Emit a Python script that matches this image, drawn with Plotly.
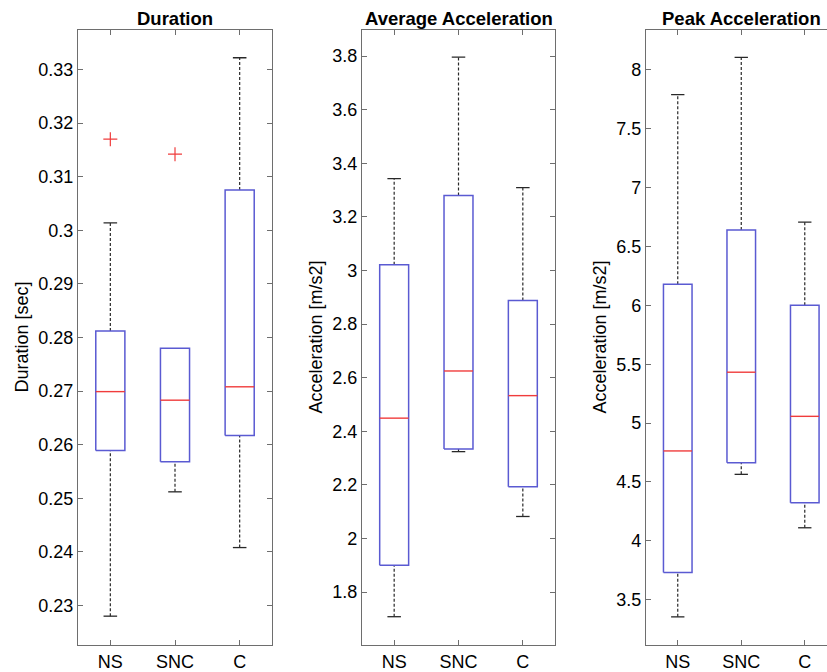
import plotly.graph_objects as go

categories = ["NS", "SNC", "C"]

# Duration [sec]
dur_lower = [0.2280, 0.2512, 0.2408]
dur_q1 = [0.2589, 0.2568, 0.2617]
dur_med = [0.2699, 0.2683, 0.2708]
dur_q3 = [0.2812, 0.2780, 0.3075]
dur_upper = [0.3014, 0.2780, 0.3322]
dur_out_cat = ["NS", "SNC"]
dur_out_val = [0.3170, 0.3142]
dur_ticks = [0.23, 0.24, 0.25, 0.26, 0.27, 0.28, 0.29, 0.30, 0.31, 0.32, 0.33]
dur_ticktext = ["0.23", "0.24", "0.25", "0.26", "0.27", "0.28", "0.29", "0.3", "0.31", "0.32", "0.33"]

# Average acceleration [m/s2]
avg_lower = [1.708, 2.324, 2.082]
avg_q1 = [1.900, 2.334, 2.193]
avg_med = [2.449, 2.625, 2.533]
avg_q3 = [3.021, 3.280, 2.888]
avg_upper = [3.343, 3.796, 3.309]
avg_ticks = [1.8, 2.0, 2.2, 2.4, 2.6, 2.8, 3.0, 3.2, 3.4, 3.6, 3.8]
avg_ticktext = ["1.8", "2", "2.2", "2.4", "2.6", "2.8", "3", "3.2", "3.4", "3.6", "3.8"]

# Peak acceleration [m/s2]
peak_lower = [3.353, 4.564, 4.110]
peak_q1 = [3.729, 4.663, 4.322]
peak_med = [4.763, 5.432, 5.057]
peak_q3 = [6.180, 6.641, 6.000]
peak_upper = [7.791, 8.107, 6.708]
peak_ticks = [3.5, 4.0, 4.5, 5.0, 5.5, 6.0, 6.5, 7.0, 7.5, 8.0]
peak_ticktext = ["3.5", "4", "4.5", "5", "5.5", "6", "6.5", "7", "7.5", "8"]

titles = ["Duration", "Average Acceleration", "Peak Acceleration"]
ylabels = ["Duration [sec]", "Acceleration [m/s2]", "Acceleration [m/s2]"]

BOX_HW = 0.225
CAP_HW = 0.105
BLUE = "rgb(90,90,210)"
RED = "rgb(240,60,60)"
WHISK = "rgb(40,40,40)"
AXC = "rgb(110,110,110)"
FONT = "Liberation Sans, Arial, Helvetica, sans-serif"

W, H = 827, 672
panels = [
    dict(lower=dur_lower, q1=dur_q1, med=dur_med, q3=dur_q3, upper=dur_upper,
         out_cat=dur_out_cat, out_val=dur_out_val, ticks=dur_ticks, ticktext=dur_ticktext,
         yrange=[0.2226, 0.3374], dom=[78, 272], xr=[0.5, 3.5], ylab_x=22, mirror_y=True),
    dict(lower=avg_lower, q1=avg_q1, med=avg_med, q3=avg_q3, upper=avg_upper,
         out_cat=[], out_val=[], ticks=avg_ticks, ticktext=avg_ticktext,
         yrange=[1.602, 3.898], dom=[362, 555], xr=[0.5, 3.5], ylab_x=316, mirror_y=True),
    dict(lower=peak_lower, q1=peak_q1, med=peak_med, q3=peak_q3, upper=peak_upper,
         out_cat=[], out_val=[], ticks=peak_ticks, ticktext=peak_ticktext,
         yrange=[3.113, 8.341], dom=[646, 827], xr=[0.5, 3.35], ylab_x=600, mirror_y=False),
]

top_px, bot_px = 30, 648
ydom = [1 - bot_px / H, 1 - top_px / H]

fig = go.Figure()
annotations = []
layout = {}
pos = {c: i + 1 for i, c in enumerate(categories)}

for k, p in enumerate(panels):
    n = k + 1
    xa = "x" if n == 1 else f"x{n}"
    ya = "y" if n == 1 else f"y{n}"
    wx, wy, cx, cy, bx, by, mx, my = [], [], [], [], [], [], [], []
    for i, c in enumerate(categories):
        xc = pos[c]
        if p["upper"][i] > p["q3"][i]:
            wx += [xc, xc, None]
            wy += [p["q3"][i], p["upper"][i], None]
            cx += [xc - CAP_HW, xc + CAP_HW, None]
            cy += [p["upper"][i], p["upper"][i], None]
        if p["lower"][i] < p["q1"][i]:
            wx += [xc, xc, None]
            wy += [p["lower"][i], p["q1"][i], None]
            cx += [xc - CAP_HW, xc + CAP_HW, None]
            cy += [p["lower"][i], p["lower"][i], None]
        bx += [xc - BOX_HW, xc + BOX_HW, xc + BOX_HW, xc - BOX_HW, xc - BOX_HW, None]
        by += [p["q1"][i], p["q1"][i], p["q3"][i], p["q3"][i], p["q1"][i], None]
        mx += [xc - BOX_HW, xc + BOX_HW, None]
        my += [p["med"][i], p["med"][i], None]
    fig.add_trace(go.Scatter(x=wx, y=wy, mode="lines", xaxis=xa, yaxis=ya,
                             line=dict(color=WHISK, width=1.2, dash="3px,2px"), hoverinfo="skip"))
    fig.add_trace(go.Scatter(x=cx, y=cy, mode="lines", xaxis=xa, yaxis=ya,
                             line=dict(color=WHISK, width=1.3), hoverinfo="skip"))
    fig.add_trace(go.Scatter(x=bx, y=by, mode="lines", xaxis=xa, yaxis=ya,
                             line=dict(color=BLUE, width=1.5), hoverinfo="skip"))
    fig.add_trace(go.Scatter(x=mx, y=my, mode="lines", xaxis=xa, yaxis=ya,
                             line=dict(color=RED, width=1.4), hoverinfo="skip"))
    if p["out_val"]:
        fig.add_trace(go.Scatter(x=[pos[c] for c in p["out_cat"]], y=p["out_val"],
                                 mode="markers", xaxis=xa, yaxis=ya,
                                 marker=dict(symbol="cross-thin", size=10,
                                             line=dict(color=RED, width=1.2)),
                                 hoverinfo="skip"))

    xkey = "xaxis" if n == 1 else f"xaxis{n}"
    ykey = "yaxis" if n == 1 else f"yaxis{n}"
    layout[xkey] = dict(domain=[p["dom"][0] / W, p["dom"][1] / W], range=p["xr"],
                        anchor=ya, tickvals=[1, 2, 3], ticktext=categories,
                        ticks="inside", ticklen=5, tickcolor=AXC, tickwidth=1.2,
                        showline=True, linecolor=AXC, linewidth=1.3, mirror="ticks",
                        showgrid=False, zeroline=False, fixedrange=True,
                        tickfont=dict(size=18, color="black", family=FONT))
    layout[ykey] = dict(domain=ydom, range=p["yrange"], anchor=xa,
                        tickvals=p["ticks"], ticktext=p["ticktext"],
                        ticks="inside", ticklen=5, tickcolor=AXC, tickwidth=1.2,
                        showline=True, linecolor=AXC, linewidth=1.3,
                        mirror="ticks" if p["mirror_y"] else False,
                        showgrid=False, zeroline=False, fixedrange=True,
                        tickfont=dict(size=18, color="black", family=FONT))
    annotations.append(dict(text=f"<b>{titles[k]}</b>", xref=xa, x=2, yref="paper",
                            y=1 - 18.5 / H, xanchor="center", yanchor="middle", showarrow=False,
                            font=dict(size=18.5, color="black", family=FONT)))
    annotations.append(dict(text=ylabels[k], xref="paper", x=p["ylab_x"] / W, yref="paper",
                            y=(ydom[0] + ydom[1]) / 2, xanchor="center", yanchor="middle",
                            textangle=-90, showarrow=False,
                            font=dict(size=18, color="black", family=FONT)))

fig.update_layout(width=W, height=H, margin=dict(l=0, r=0, t=0, b=0),
                  paper_bgcolor="white", plot_bgcolor="white", showlegend=False,
                  annotations=annotations, **layout)

fig.write_html("out.html")
